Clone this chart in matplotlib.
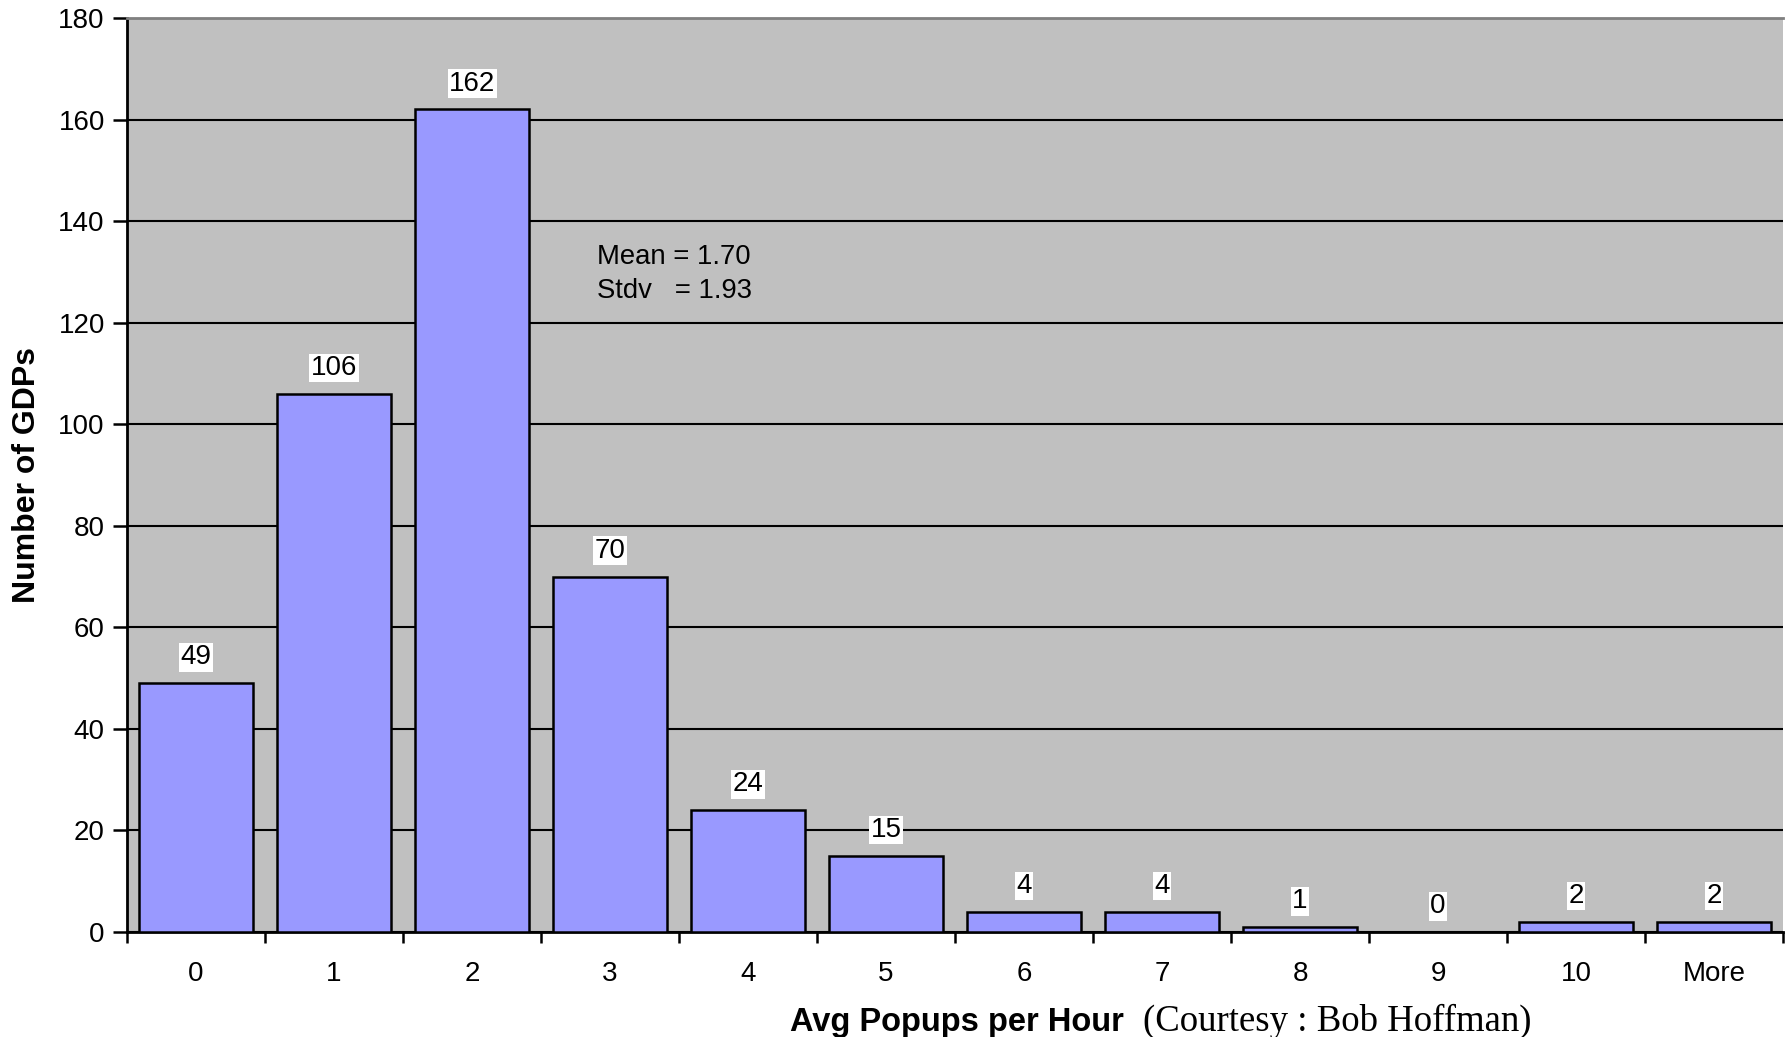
import matplotlib
matplotlib.use("Agg")
import matplotlib.pyplot as plt
import numpy as np

# histogram of popups per hour
categories = ["0", "1", "2", "3", "4", "5", "6", "7", "8", "9", "10", "More"]
counts = [49, 106, 162, 70, 24, 15, 4, 4, 1, 0, 2, 2]

plt.rcParams["font.family"] = ["Liberation Sans", "DejaVu Sans"]

fig = plt.figure(figsize=(17.87, 10.37), dpi=100)
ax = fig.add_axes([0.0711, 0.1013, 0.9267, 0.8813])
ax.set_facecolor("#C0C0C0")

x = np.arange(len(categories))
ax.bar(x, counts, width=0.826, color="#9999FF", edgecolor="black", linewidth=1.8, zorder=3)

for xi, c in zip(x, counts):
    ax.annotate(str(c), (xi, c), xytext=(0, 18.5), textcoords="offset points",
                ha="center", va="center", fontsize=20, zorder=4,
                bbox=dict(boxstyle="square,pad=0.05", fc="white", ec="none"))

ax.set_xlim(-0.5, len(categories) - 0.5)
ax.set_ylim(0, 180)
ax.set_yticks(range(0, 181, 20))
ax.yaxis.grid(True, color="black", linewidth=1.5, zorder=1)
ax.set_axisbelow(True)

ax.set_xticks(x)
ax.set_xticklabels(categories)
ax.set_xticks(np.arange(-0.5, len(categories), 1), minor=True)
ax.tick_params(axis="x", which="major", length=0, pad=21, labelsize=20)
ax.tick_params(axis="x", which="minor", length=8, width=1.8, direction="out")
ax.tick_params(axis="y", length=10, width=1.8, direction="out", labelsize=20, pad=6)

for s in ["left", "bottom"]:
    ax.spines[s].set_linewidth(2)
    ax.spines[s].set_color("black")
ax.spines["top"].set_color("#808080")
ax.spines["top"].set_linewidth(2)
ax.spines["right"].set_visible(False)

ax.text(2.906, 132.9, "Mean = 1.70", fontsize=19.8, va="center", ha="left")
ax.text(2.906, 126.2, "Stdv   = 1.93", fontsize=19.8, va="center", ha="left")

ax.set_ylabel("Number of GDPs", fontsize=23, fontweight="bold", labelpad=12)

fig.text(790 / 1787, 0.006, "Avg Popups per Hour", fontsize=23.5, fontweight="bold",
         ha="left", va="baseline")
fig.text(1143 / 1787, 0.006, "(Courtesy : Bob Hoffman)", fontsize=26.5,
         family="Liberation Serif", ha="left", va="baseline")

fig.savefig("out.png", dpi=100)
